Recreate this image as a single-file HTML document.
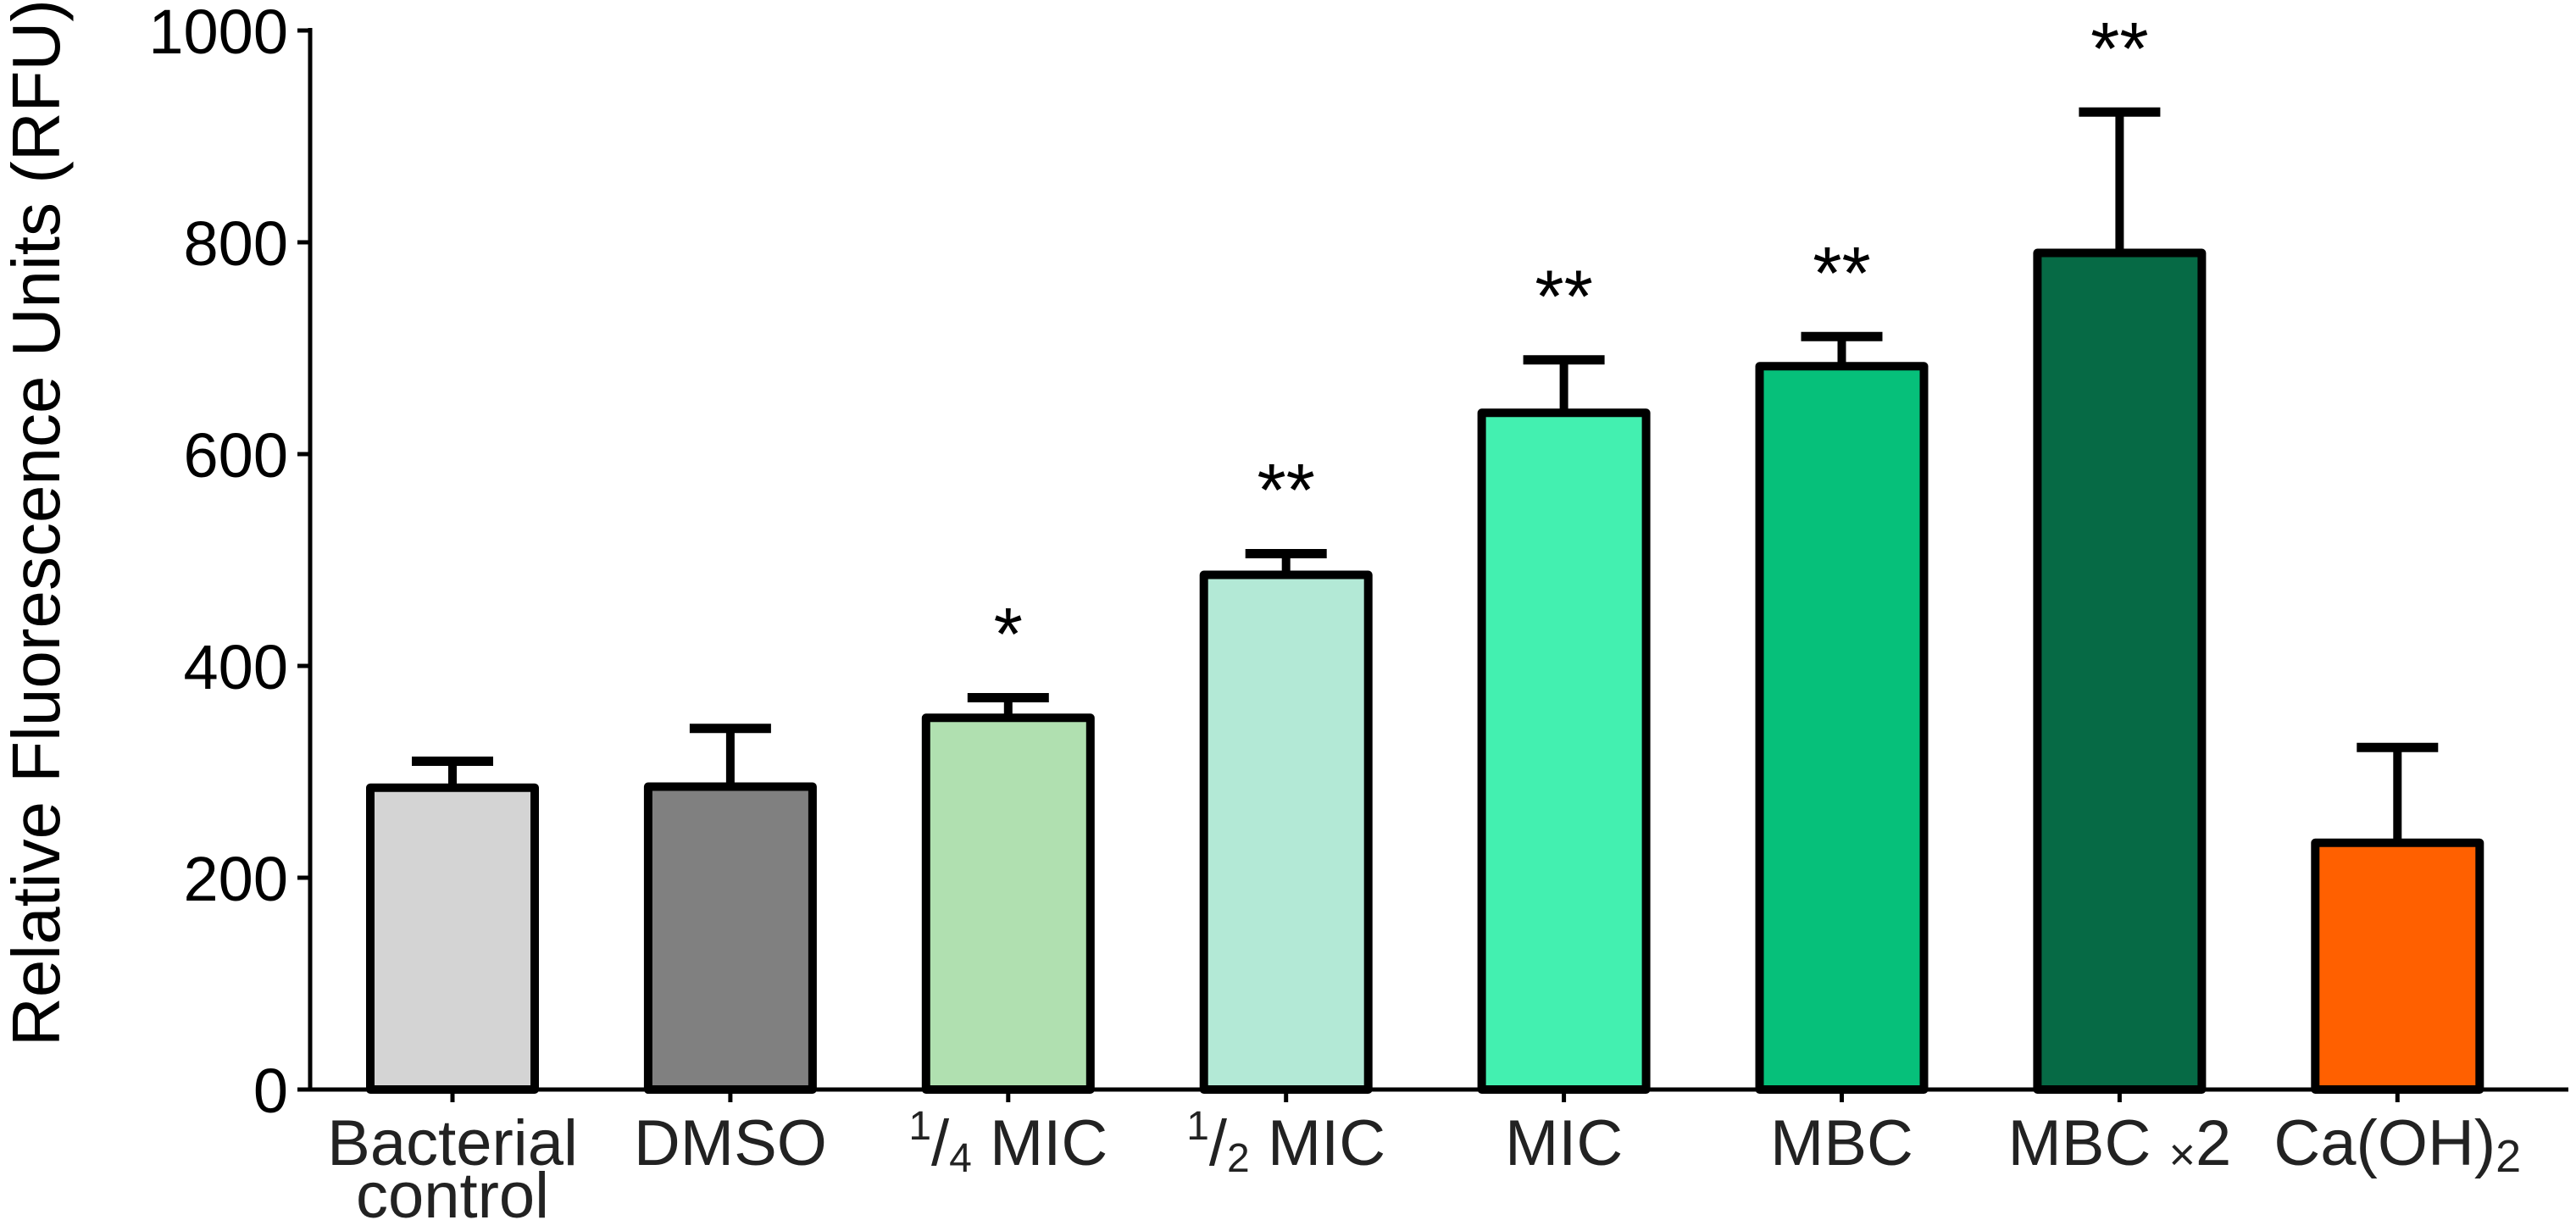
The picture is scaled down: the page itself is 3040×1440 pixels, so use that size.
<!DOCTYPE html>
<html><head><meta charset="utf-8"><style>
html,body{margin:0;padding:0;background:#fff;}
svg{display:block;font-family:"Liberation Sans",Arial,sans-serif;}
</style></head><body>
<svg id="chart" width="3040" height="1440" viewBox="0 0 3040 1440" xmlns="http://www.w3.org/2000/svg">
<g id="plot"></g>
</svg>
<script>
const categories = ["Bacterial control","DMSO","1/4 MIC","1/2 MIC","MIC","MBC","MBC x2","Ca(OH)2"];
const values = [285, 286, 351, 486, 639, 683, 790, 233];
const errors = [25, 55, 19, 20, 50, 28, 133, 90];
const stars = ["", "", "*", "**", "**", "**", "**", ""];
const colors = ["#d4d4d4","#808080","#b0e0b0","#b3e9d6","#43f0b0","#06c07a","#066a45","#ff6000"];
const yTicks = [0, 200, 400, 600, 800, 1000];

const NS = "http://www.w3.org/2000/svg";
const g = document.getElementById("plot");
const axX = 366, baseY = 1286, topY = 36, yMax = 1000;
const firstC = 534, step = 327.9, barW = 194;
function y(v){ return baseY - (v / yMax) * (baseY - topY); }
function x(i){ return firstC + i * step; }
function mk(tag, attrs, parent){
  const e = document.createElementNS(NS, tag);
  for (const k in attrs) e.setAttribute(k, attrs[k]);
  (parent || g).appendChild(e);
  return e;
}
categories.forEach((c, i) => {
  const cx = x(i), top = y(values[i]), cap = y(values[i] + errors[i]);
  const stem = mk("line", {x1: cx, x2: cx, y1: top, y2: cap, stroke: "#000", "stroke-width": 10});
  
  
  const capL = mk("line", {x1: cx - 48, x2: cx + 48, y1: cap, y2: cap, stroke: "#000", "stroke-width": 11});
  
  
  const r = mk("rect", {x: cx - barW / 2, y: top, width: barW, height: baseY - top, fill: colors[i], stroke: "#000", "stroke-width": 10, "stroke-linejoin": "round"});
  
  
  if (stars[i]) {
    const s = mk("text", {x: cx, y: cap - 45, "text-anchor": "middle", "font-size": 88, fill: "#000"});
    s.textContent = stars[i];
    
    
  }
  const t = mk("line", {x1: cx, x2: cx, y1: baseY, y2: baseY + 15, stroke: "#000", "stroke-width": 5});
  
  
});
const yAxis = mk("line", {x1: axX, x2: axX, y1: topY - 3, y2: baseY + 2.5, stroke: "#000", "stroke-width": 5});


const xAxis = mk("line", {x1: axX - 15, x2: 3031, y1: baseY, y2: baseY, stroke: "#000", "stroke-width": 5});


yTicks.forEach(v => {
  const t = mk("line", {x1: axX - 15, x2: axX, y1: y(v), y2: y(v), stroke: "#000", "stroke-width": 5});
  
  
  const l = mk("text", {x: 340, y: y(v) + 27, "text-anchor": "end", "font-size": 74, fill: "#000"});
  l.textContent = v;
  
  
});
const yt = mk("text", {x: 0, y: 0, "text-anchor": "middle", "font-size": 80, fill: "#000", transform: "translate(70,617) rotate(-90)"});
yt.textContent = "Relative Fluorescence Units (RFU)";


const LY = 1375;
function lab(i, html, yy){
  const t = mk("text", {x: x(i), y: yy || LY, "text-anchor": "middle", "font-size": 76, fill: "#222"});
  t.innerHTML = html;
  
  
  return t;
}
lab(0, "Bacterial");
lab(0, "control", 1437);
lab(1, "DMSO");
lab(2, '<tspan font-size="48" dy="-30">1</tspan><tspan dy="30">/</tspan><tspan font-size="48" dy="8">4</tspan><tspan dy="-8"> MIC</tspan>');
lab(3, '<tspan font-size="48" dy="-30">1</tspan><tspan dy="30">/</tspan><tspan font-size="48" dy="8">2</tspan><tspan dy="-8"> MIC</tspan>');
lab(4, "MIC");
lab(5, "MBC");
lab(6, 'MBC <tspan font-size="54" dy="6">×</tspan><tspan dy="-6">2</tspan>');
lab(7, 'Ca(OH)<tspan font-size="54" dy="8">2</tspan>');
</script>
</body></html>
